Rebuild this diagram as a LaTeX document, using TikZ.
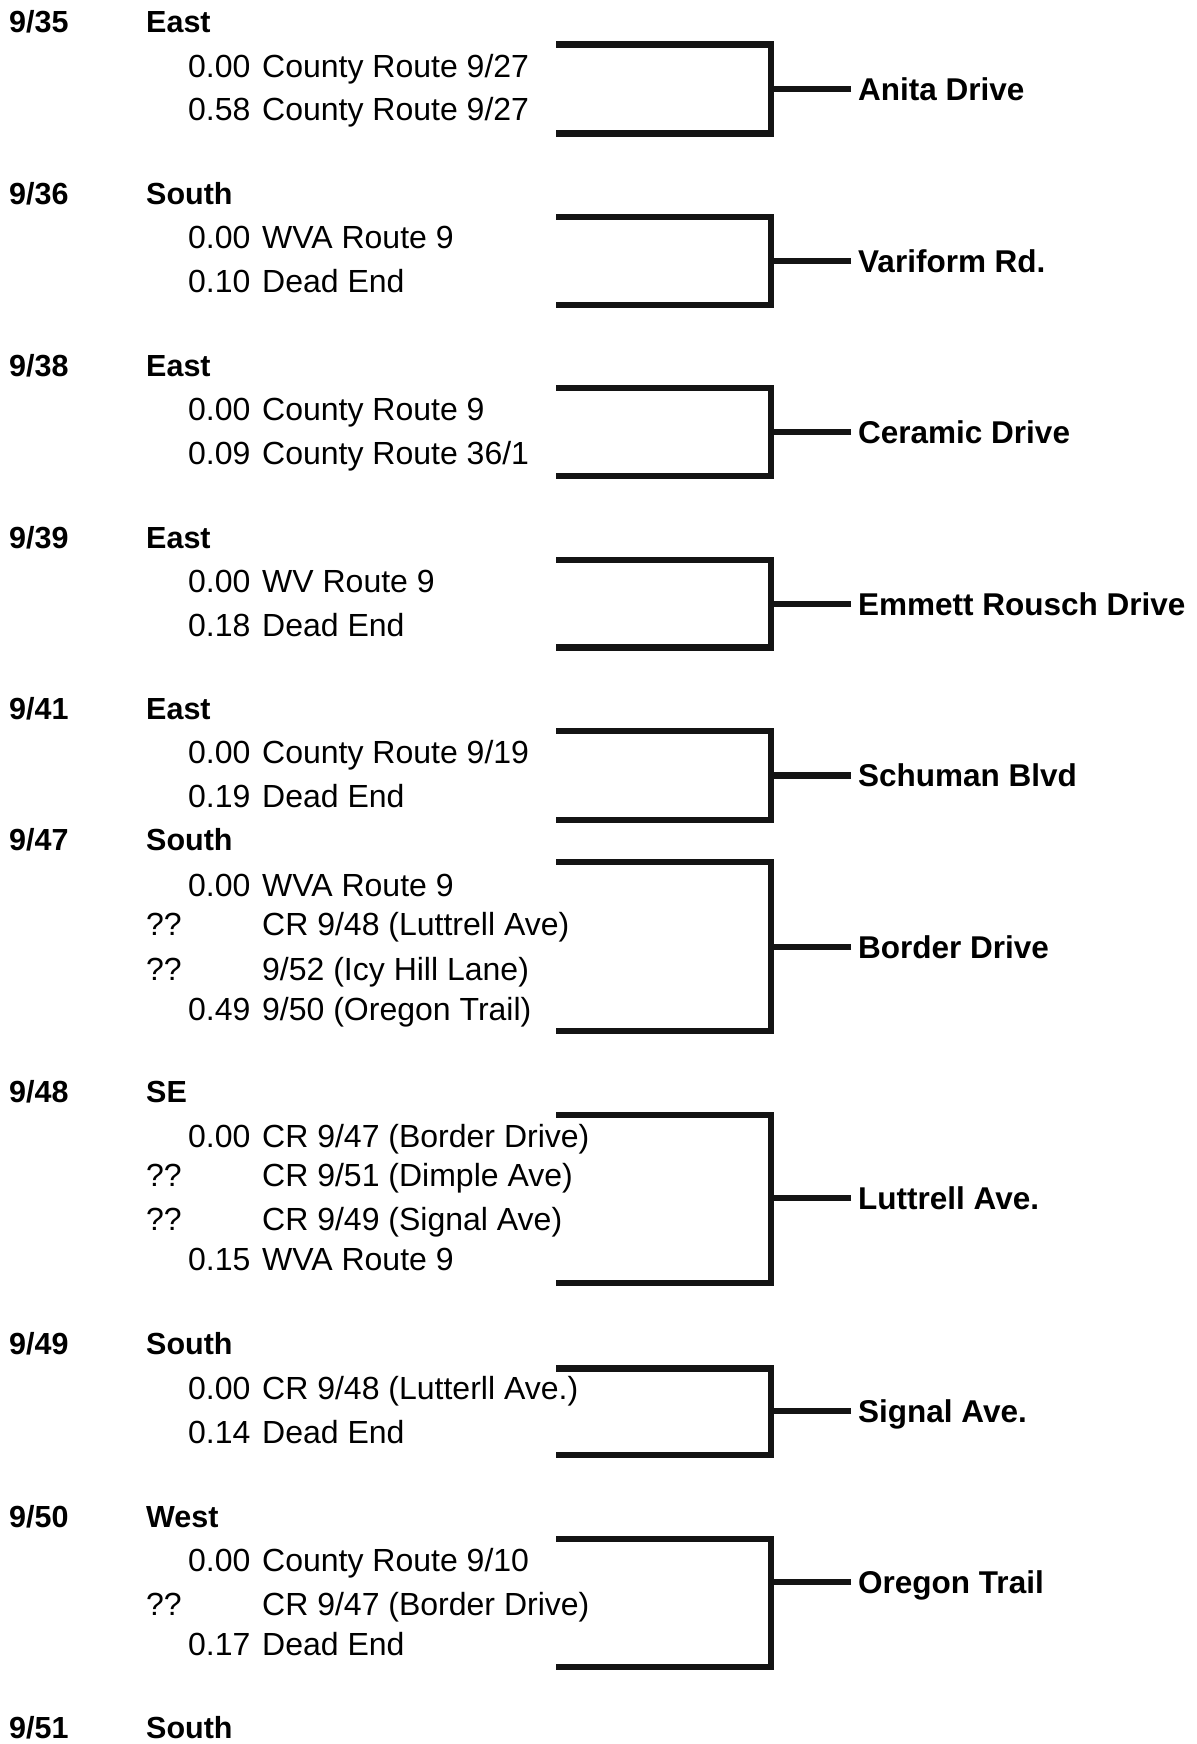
\documentclass[tikz,border=0pt]{standalone}
\usepackage{fontspec}
\setmainfont{Liberation Sans}

\begin{document}
\begin{tikzpicture}[
    x=1pt, y=-1pt,
    % Styles
    num/.style={anchor=west, inner sep=0pt, font=\fontsize{30.5}{36}\selectfont\bfseries, text height=21.8pt, text depth=0pt},
    dir/.style={num},
    mile/.style={anchor=west, inner sep=0pt, font=\fontsize{32}{38}\selectfont, text height=22.9pt, text depth=0pt},
    route/.style={mile},
    road/.style={anchor=west, inner xsep=7pt, inner ysep=0pt, font=\fontsize{31.5}{38}\selectfont\bfseries, text height=22.6pt, text depth=0pt},
    brk/.style={line width=6.5pt, draw=black!92}
]
\useasboundingbox (0,0) rectangle (1196,1744);

% --- 9/35 ---
\node[num] (n35) at (9,22) {9/35};
\node[dir] (d35) at (146,22) {East};
\node[mile] (m35a) at (188,66) {0.00};
\node[route] (r35a) at (262,66) {County Route 9/27};
\node[mile] (m35b) at (188,109.5) {0.58};
\node[route] (r35b) at (262,109.5) {County Route 9/27};
\coordinate (t35) at (556,44.5);
\coordinate (b35) at (556,133.5);
\node[road] (rd35) at (851,89) {Anita Drive};
\draw[brk] (t35) -- ++(215,0) |- (b35);
\draw[brk] (rd35.west) -- ++(-80,0);

% --- 9/36 ---
\node[num] (n36) at (9,194) {9/36};
\node[dir] (d36) at (146,194) {South};
\node[mile] (m36a) at (188,237.5) {0.00};
\node[route] (r36a) at (262,237.5) {WVA Route 9};
\node[mile] (m36b) at (188,281) {0.10};
\node[route] (r36b) at (262,281) {Dead End};
\coordinate (t36) at (556,217);
\coordinate (b36) at (556,305);
\node[road] (rd36) at (851,261) {Variform Rd.};
\draw[brk] (t36) -- ++(215,0) |- (b36);
\draw[brk] (rd36.west) -- ++(-80,0);

% --- 9/38 ---
\node[num] (n38) at (9,366) {9/38};
\node[dir] (d38) at (146,366) {East};
\node[mile] (m38a) at (188,409.5) {0.00};
\node[route] (r38a) at (262,409.5) {County Route 9};
\node[mile] (m38b) at (188,453.5) {0.09};
\node[route] (r38b) at (262,453.5) {County Route 36/1};
\coordinate (t38) at (556,388);
\coordinate (b38) at (556,476);
\node[road] (rd38) at (851,432) {Ceramic Drive};
\draw[brk] (t38) -- ++(215,0) |- (b38);
\draw[brk] (rd38.west) -- ++(-80,0);

% --- 9/39 ---
\node[num] (n39) at (9,537.5) {9/39};
\node[dir] (d39) at (146,537.5) {East};
\node[mile] (m39a) at (188,581) {0.00};
\node[route] (r39a) at (262,581) {WV Route 9};
\node[mile] (m39b) at (188,625) {0.18};
\node[route] (r39b) at (262,625) {Dead End};
\coordinate (t39) at (556,560);
\coordinate (b39) at (556,647.5);
\node[road] (rd39) at (851,604) {Emmett Rousch Drive};
\draw[brk] (t39) -- ++(215,0) |- (b39);
\draw[brk] (rd39.west) -- ++(-80,0);

% --- 9/41 ---
\node[num] (n41) at (9,709) {9/41};
\node[dir] (d41) at (146,709) {East};
\node[mile] (m41a) at (188,752.5) {0.00};
\node[route] (r41a) at (262,752.5) {County Route 9/19};
\node[mile] (m41b) at (188,796.5) {0.19};
\node[route] (r41b) at (262,796.5) {Dead End};
\coordinate (t41) at (556,731);
\coordinate (b41) at (556,820);
\node[road] (rd41) at (851,775.5) {Schuman Blvd};
\draw[brk] (t41) -- ++(215,0) |- (b41);
\draw[brk] (rd41.west) -- ++(-80,0);

% --- 9/47 ---
\node[num] (n47) at (9,840) {9/47};
\node[dir] (d47) at (146,840) {South};
\node[mile] (m47a) at (188,885.5) {0.00};
\node[route] (r47a) at (262,885.5) {WVA Route 9};
\node[mile] (m47b) at (146,924.5) {??};
\node[route] (r47b) at (262,924.5) {CR 9/48 (Luttrell Ave)};
\node[mile] (m47c) at (146,969) {??};
\node[route] (r47c) at (262,969) {9/52 (Icy Hill Lane)};
\node[mile] (m47d) at (188,1009) {0.49};
\node[route] (r47d) at (262,1009) {9/50 (Oregon Trail)};
\coordinate (t47) at (556,862);
\coordinate (b47) at (556,1031);
\node[road] (rd47) at (851,947) {Border Drive};
\draw[brk] (t47) -- ++(215,0) |- (b47);
\draw[brk] (rd47.west) -- ++(-80,0);

% --- 9/48 ---
\node[num] (n48) at (9,1091.5) {9/48};
\node[dir] (d48) at (146,1091.5) {SE};
\node[mile] (m48a) at (188,1136) {0.00};
\node[route] (r48a) at (262,1136) {CR 9/47 (Border Drive)};
\node[mile] (m48b) at (146,1175) {??};
\node[route] (r48b) at (262,1175) {CR 9/51 (Dimple Ave)};
\node[mile] (m48c) at (146,1219) {??};
\node[route] (r48c) at (262,1219) {CR 9/49 (Signal Ave)};
\node[mile] (m48d) at (188,1259.5) {0.15};
\node[route] (r48d) at (262,1259.5) {WVA Route 9};
\coordinate (t48) at (556,1115);
\coordinate (b48) at (556,1283);
\node[road] (rd48) at (851,1198) {Luttrell Ave.};
\draw[brk] (t48) -- ++(215,0) |- (b48);
\draw[brk] (rd48.west) -- ++(-80,0);

% --- 9/49 ---
\node[num] (n49) at (9,1344) {9/49};
\node[dir] (d49) at (146,1344) {South};
\node[mile] (m49a) at (188,1388.5) {0.00};
\node[route] (r49a) at (262,1388.5) {CR 9/48 (Lutterll Ave.)};
\node[mile] (m49b) at (188,1432) {0.14};
\node[route] (r49b) at (262,1432) {Dead End};
\coordinate (t49) at (556,1368.5);
\coordinate (b49) at (556,1455);
\node[road] (rd49) at (851,1411) {Signal Ave.};
\draw[brk] (t49) -- ++(215,0) |- (b49);
\draw[brk] (rd49.west) -- ++(-80,0);

% --- 9/50 ---
\node[num] (n50) at (9,1516.5) {9/50};
\node[dir] (d50) at (146,1516.5) {West};
\node[mile] (m50a) at (188,1560) {0.00};
\node[route] (r50a) at (262,1560) {County Route 9/10};
\node[mile] (m50b) at (146,1604) {??};
\node[route] (r50b) at (262,1604) {CR 9/47 (Border Drive)};
\node[mile] (m50c) at (188,1644) {0.17};
\node[route] (r50c) at (262,1644) {Dead End};
\coordinate (t50) at (556,1539);
\coordinate (b50) at (556,1667);
\node[road] (rd50) at (851,1582) {Oregon Trail};
\draw[brk] (t50) -- ++(215,0) |- (b50);
\draw[brk] (rd50.west) -- ++(-80,0);

% --- 9/51 ---
\node[num] (n51) at (9,1728) {9/51};
\node[dir] (d51) at (146,1728) {South};

\end{tikzpicture}
\end{document}
